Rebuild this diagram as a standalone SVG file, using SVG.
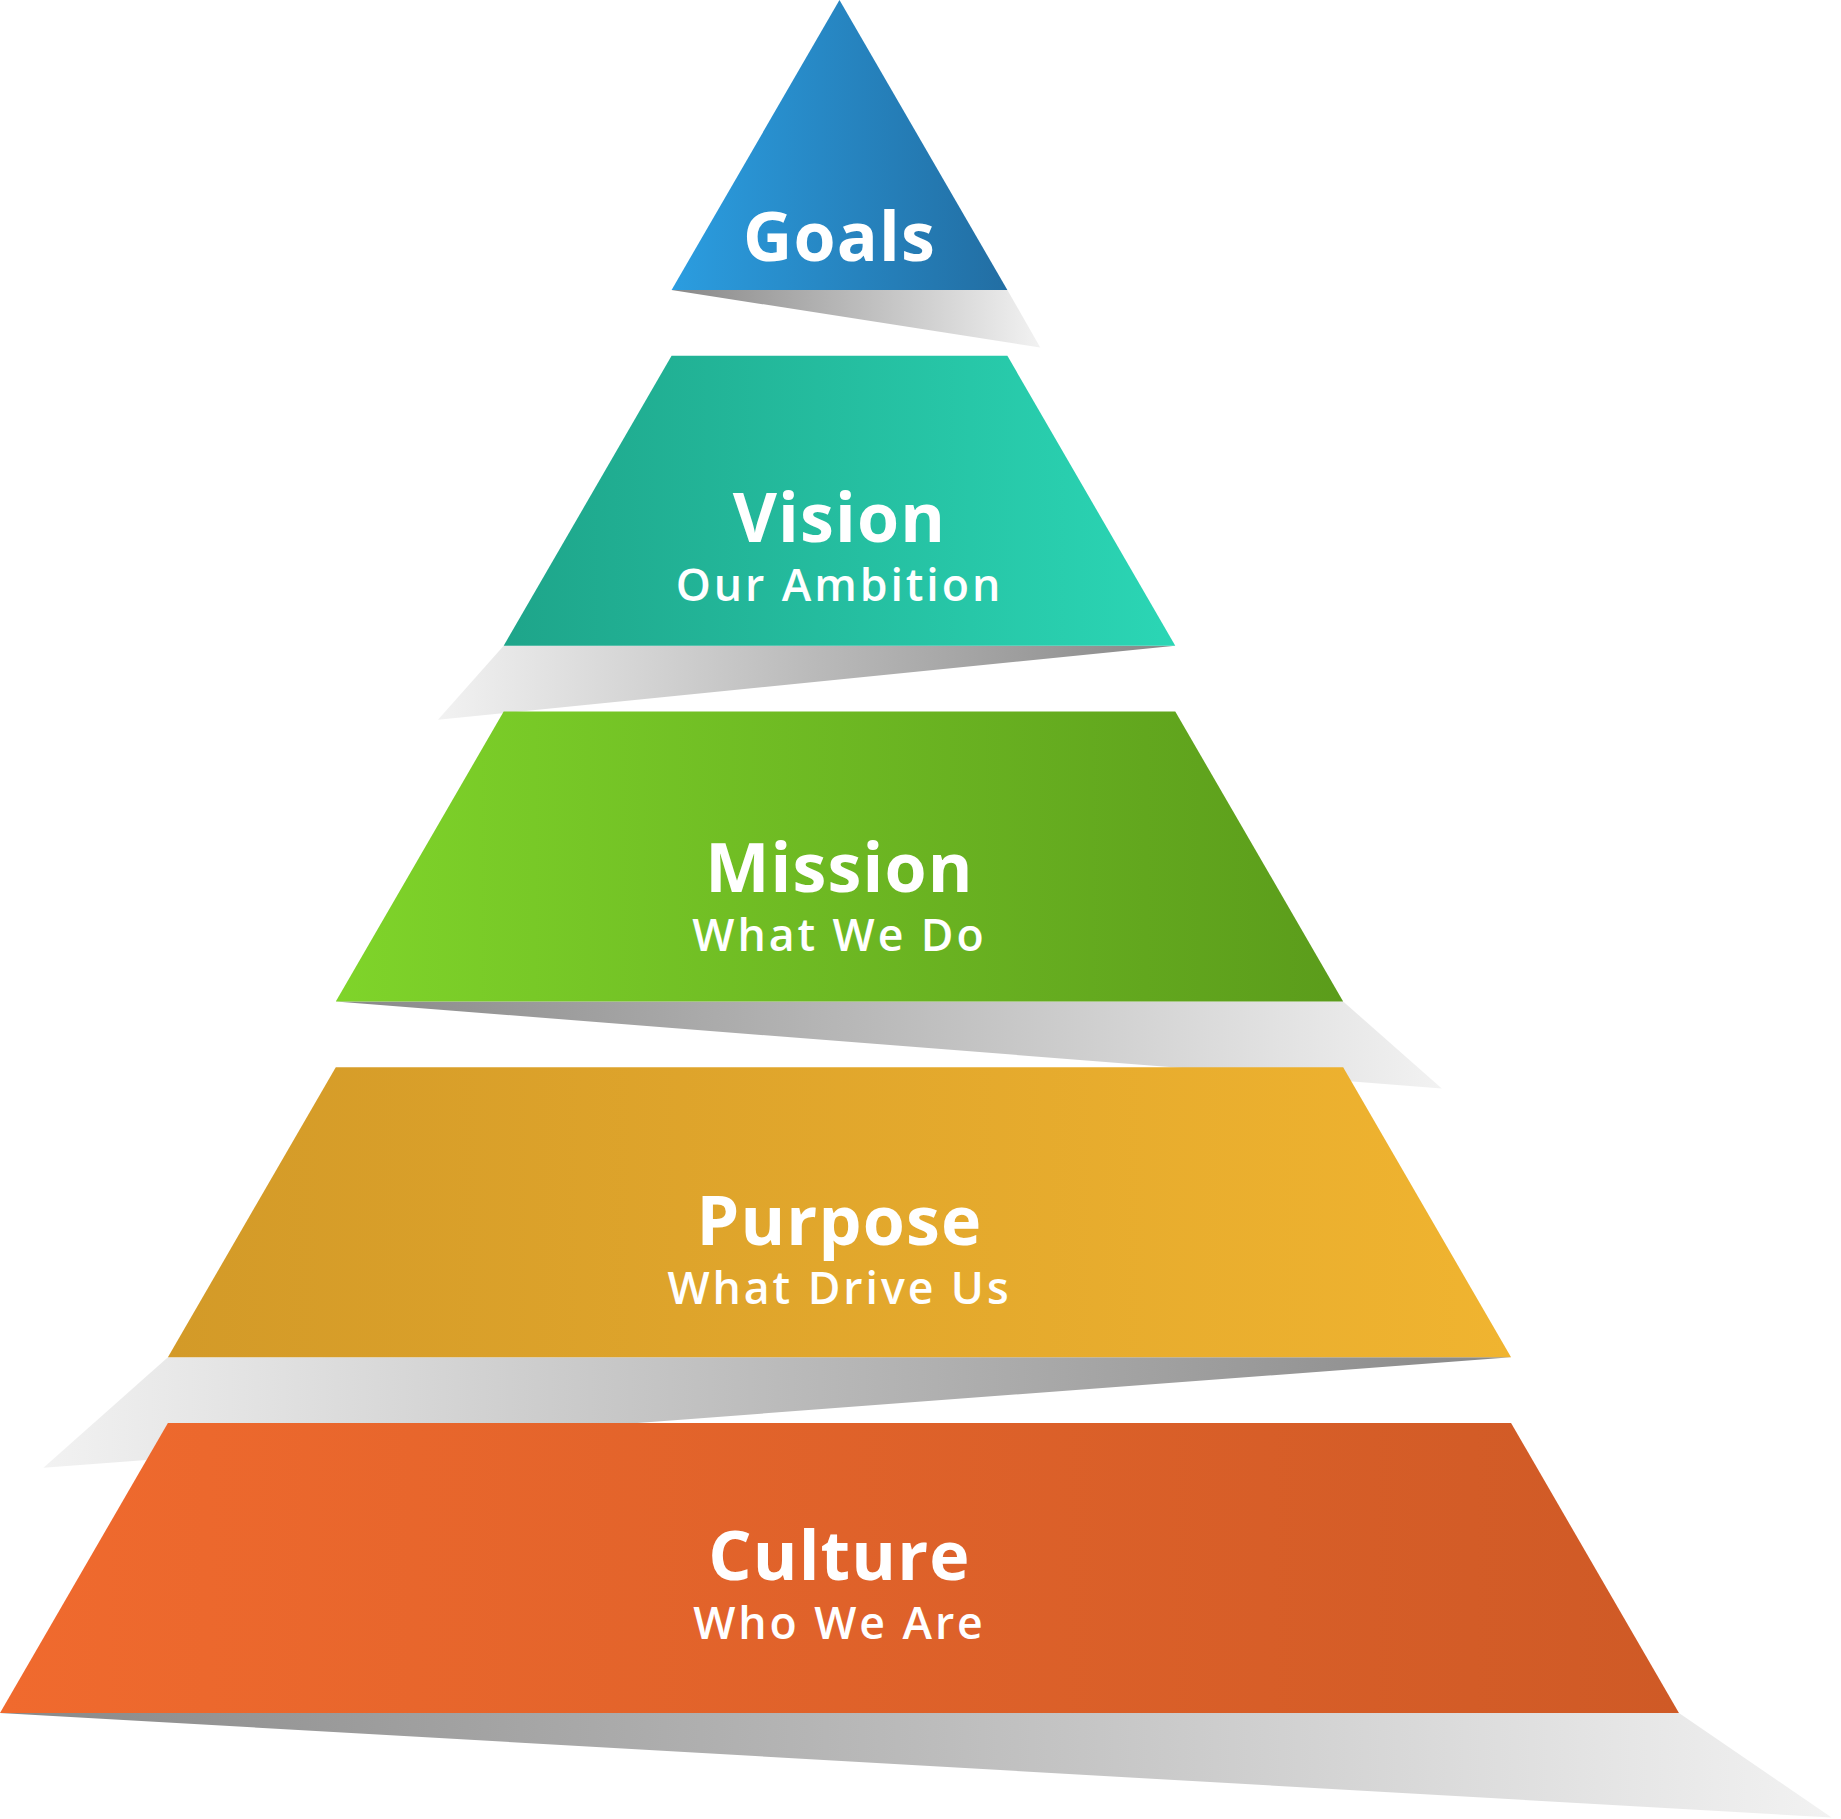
<svg xmlns="http://www.w3.org/2000/svg" width="1841" height="1819" viewBox="0 0 1841 1819">
<defs>
<linearGradient id="gG" x1="0" x2="1"><stop offset="0" stop-color="#2b9de0"/><stop offset="1" stop-color="#226ea3"/></linearGradient>
<linearGradient id="gV" x1="0" x2="1"><stop offset="0" stop-color="#1ea58a"/><stop offset="1" stop-color="#2bd6b5"/></linearGradient>
<linearGradient id="gM" x1="0" x2="1"><stop offset="0" stop-color="#7fd42a"/><stop offset="1" stop-color="#5b9c1b"/></linearGradient>
<linearGradient id="gP" x1="0" x2="1"><stop offset="0" stop-color="#d39a28"/><stop offset="1" stop-color="#f0b430"/></linearGradient>
<linearGradient id="gC" x1="0" x2="1"><stop offset="0" stop-color="#f06a2e"/><stop offset="1" stop-color="#cf5a26"/></linearGradient>
<linearGradient id="sR" x1="0" x2="1"><stop offset="0" stop-color="#888"/><stop offset="0.5" stop-color="#bbb"/><stop offset="1" stop-color="#f2f2f2"/></linearGradient>
<linearGradient id="sL" x1="1" x2="0"><stop offset="0" stop-color="#888"/><stop offset="0.5" stop-color="#bbb"/><stop offset="1" stop-color="#f2f2f2"/></linearGradient>
</defs>
<style>
.t{font-family:"Open Sans","DejaVu Sans",sans-serif;font-weight:bold;fill:#fff;text-anchor:middle;font-size:58px;letter-spacing:1px}
.s{font-family:"Open Sans","DejaVu Sans",sans-serif;font-weight:600;fill:#fff;text-anchor:middle;font-size:38px;letter-spacing:2.5px}
</style>
<g transform="scale(1.1741)">
<g id="shadows">
<polygon points="572,247 858,247 886,296" fill="url(#sR)"/>
<polygon points="429,550 1001,550 373,613" fill="url(#sL)"/>
<polygon points="286,853 1144,853 1228,927" fill="url(#sR)"/>
<polygon points="143,1156 1287,1156 37,1250" fill="url(#sL)"/>
<polygon points="0,1459 1430,1459 1560,1548" fill="url(#sR)"/>
</g>
<g id="goals"><polygon points="715,0 858,247 572,247" fill="url(#gG)"/><text class="t" x="715" y="222">Goals</text></g>
<g id="vision"><polygon points="572,303 858,303 1001,550 429,550" fill="url(#gV)"/><text class="t" x="715" y="462">Vision</text><text class="s" x="715" y="512">Our Ambition</text></g>
<g id="mission"><polygon points="429,606 1001,606 1144,853 286,853" fill="url(#gM)"/><text class="t" x="715" y="760">Mission</text><text class="s" x="715" y="810">What We Do</text></g>
<g id="purpose"><polygon points="286,909 1144,909 1287,1156 143,1156" fill="url(#gP)"/><text class="t" x="715" y="1060">Purpose</text><text class="s" x="715" y="1111">What Drive Us</text></g>
<g id="culture"><polygon points="143,1212 1287,1212 1430,1459 0,1459" fill="url(#gC)"/><text class="t" x="715" y="1346">Culture</text><text class="s" x="715" y="1396">Who We Are</text></g>
</g>
</svg>
